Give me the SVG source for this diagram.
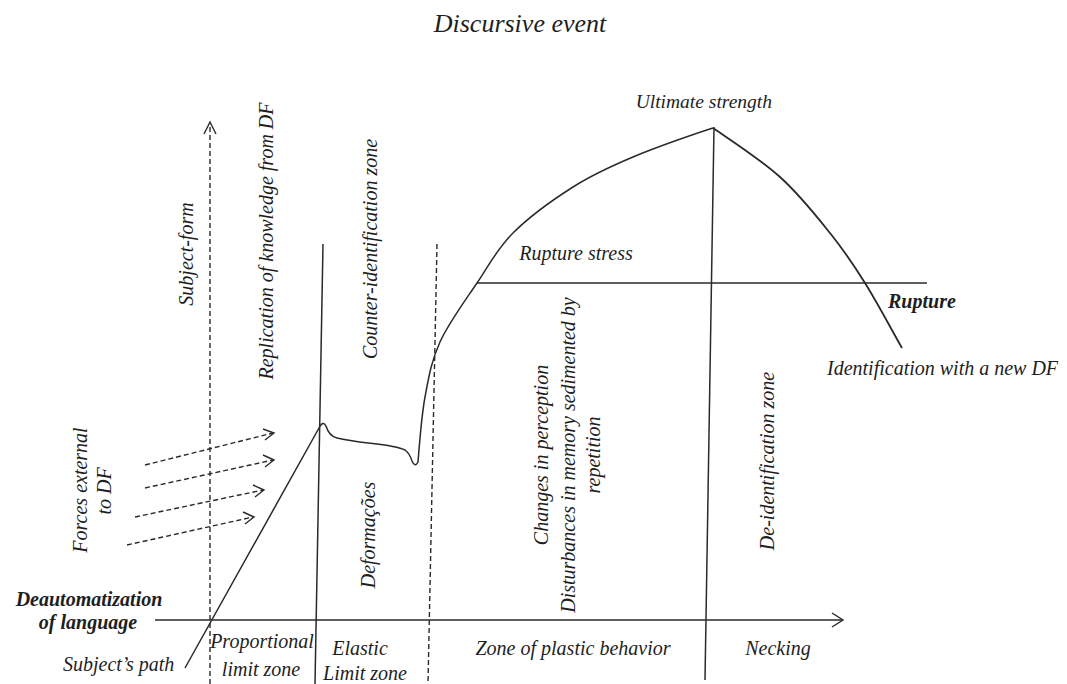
<svg xmlns="http://www.w3.org/2000/svg" width="1067" height="684" viewBox="0 0 1067 684">
<style>
.t{font-family:"Liberation Serif","Times New Roman",serif;font-style:italic;font-size:20px;fill:#1e1e1e}
.b{font-weight:bold}
.ln{fill:none;stroke:#2a2a2a;stroke-width:1.5}
.ds{fill:none;stroke:#2a2a2a;stroke-width:1.4;stroke-dasharray:5 3}
.ah{fill:none;stroke:#2a2a2a;stroke-width:1.4}
</style>
<rect width="1067" height="684" fill="#fff"/>
<g id="title"><text class="t" x="520" y="32" text-anchor="middle" style="font-size:26px">Discursive event</text></g>
<g id="connectors">
  <path class="ds" d="M210,684 L210,124"/>
  <path class="ah" d="M204,134 L210,122 L216,134"/>
  <path class="ln" d="M323,244 L315,684"/>
  <path class="ds" d="M437,244 L428,684"/>
  <path class="ln" d="M714,127 L705,680"/>
  <path class="ln" d="M155,620 L842,620"/>
  <path class="ah" d="M832,613 L843,620 L832,627"/>
  <path class="ln" d="M477,283 L927,283"/>
  <path class="ds" d="M145,465 L273,433"/>
  <path class="ah" d="M263,429 L274,433 L265,440"/>
  <path class="ds" d="M145,488 L273,460"/>
  <path class="ah" d="M263,455 L274,460 L265,467"/>
  <path class="ds" d="M135,517 L263,490"/>
  <path class="ah" d="M253,485 L264,490 L255,497"/>
  <path class="ds" d="M127,545 L253,517"/>
  <path class="ah" d="M243,512 L254,517 L245,524"/>
  <path class="ln" d="M185,668 L319,428 Q323,420 326,426 Q329,436 337,438 C360,444 392,443 405,450 Q410,454 412,461 Q415,468 418,462 C419.3,446.5 421.3,417 425,397 C428.7,377 431.3,361 440,342 C448.7,323 464.8,301.2 477,283 C489.2,264.8 497,249 513,233 C529,217 553,199.7 573,187 C593,174.3 609.7,166.8 633,157 C656.3,147.2 700,132 713,128"/>
  <path class="ln" style="stroke-width:1.8" d="M713,128 C735,143 760.5,159.5 780,177 C799.5,194.5 815.8,215.3 830,233 C844.2,250.7 853,263.8 865,283 C877,302.2 889.7,326.3 902,348"/>
</g>
<g id="subject-form"><text class="t" transform="translate(193,254) rotate(-90)" text-anchor="middle">Subject-form</text></g>
<g id="replication"><text class="t" transform="translate(273,241) rotate(-90)" text-anchor="middle">Replication of knowledge from DF</text></g>
<g id="counter-identification"><text class="t" transform="translate(377,249) rotate(-90)" text-anchor="middle">Counter-identification zone</text></g>
<g id="forces-external"><text class="t" transform="translate(87,490) rotate(-90)" text-anchor="middle">Forces external</text><text class="t" transform="translate(111,491) rotate(-90)" text-anchor="middle">to DF</text></g>
<g id="deformacoes"><text class="t" transform="translate(375,535) rotate(-90)" text-anchor="middle">Deformações</text></g>
<g id="changes"><text class="t" transform="translate(548,455) rotate(-90)" text-anchor="middle">Changes in perception</text><text class="t" transform="translate(575,455) rotate(-90)" text-anchor="middle">Disturbances in memory sedimented by</text><text class="t" transform="translate(600,455) rotate(-90)" text-anchor="middle">repetition</text></g>
<g id="de-identification"><text class="t" transform="translate(774,461) rotate(-90)" text-anchor="middle">De-identification zone</text></g>
<g id="ultimate-strength"><text class="t" x="772" y="108" text-anchor="end" style="font-size:19.5px">Ultimate strength</text></g>
<g id="rupture-stress"><text class="t" x="576" y="260" text-anchor="middle">Rupture stress</text></g>
<g id="rupture"><text class="t b" x="888" y="308">Rupture</text></g>
<g id="identification-new"><text class="t" x="827" y="375">Identification with a new DF</text></g>
<g id="deautomatization"><text class="t b" x="89" y="606" text-anchor="middle">Deautomatization</text><text class="t b" x="88" y="629" text-anchor="middle">of language</text></g>
<g id="subjects-path"><text class="t" x="63" y="671">Subject’s path</text></g>
<g id="proportional"><text class="t" x="262" y="648" text-anchor="middle">Proportional</text><text class="t" x="261" y="676" text-anchor="middle">limit zone</text></g>
<g id="elastic"><text class="t" x="360" y="655" text-anchor="middle">Elastic</text><text class="t" x="365" y="680" text-anchor="middle">Limit zone</text></g>
<g id="plastic"><text class="t" x="573" y="655" text-anchor="middle">Zone of plastic behavior</text></g>
<g id="necking"><text class="t" x="778" y="655" text-anchor="middle">Necking</text></g>
</svg>
